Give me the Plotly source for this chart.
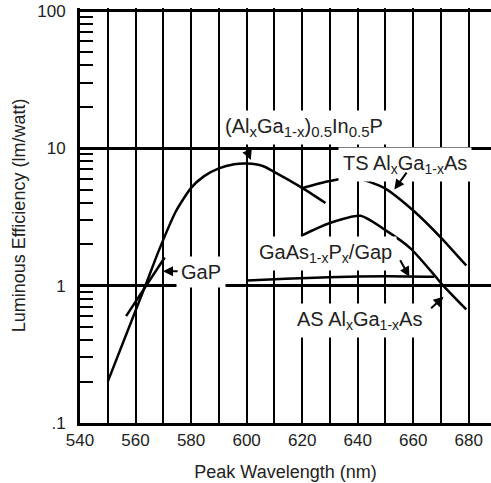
import math
import plotly.graph_objects as go

# ---- data ----
inp_x = [550, 563.8, 568.2, 574.5, 580, 584.7, 590, 595.5, 600, 605.8, 609.4, 620, 628.4]
inp_y = [0.2, 1.03, 1.76, 3.46, 5.14, 6.26, 7.13, 7.63, 7.72, 7.41, 6.81, 5.14, 3.99]

gap_x = [556.6, 570.5]
gap_y = [0.6, 1.6]

ts_x = [619.5, 629.6, 639.0, 649.5, 660.4, 670.2, 679.1]
ts_y = [5.1, 5.75, 6.1, 5.14, 3.46, 2.21, 1.40]

as_x = [619.6, 629.7, 641.0, 650.8, 659.1, 667.8, 670.2, 679.1]
as_y = [2.30, 2.84, 3.22, 2.47, 1.86, 1.18, 1.03, 0.67]

gaasp_x = [600.3, 614, 629.5, 650.8, 667.6]
gaasp_y = [1.09, 1.12, 1.15, 1.17, 1.16]

x_ticks = list(range(540, 690, 20))
x_minor = list(range(550, 690, 20))
y_ticks = [0.1, 1, 10, 100]
y_labels = [".1", "1", "10", "100"]
y_minor = [m * d for d in (0.1, 1, 10) for m in range(2, 10)]

SUB = '<sub><span style="font-size:15px">{}</span></sub>'
labels = [
    ("(Al" + SUB.format("x") + "Ga" + SUB.format("1-x") + ")" + SUB.format("0.5")
     + "In" + SUB.format("0.5") + "P", 620.5, 14.1),
    ("TS Al<sub>x</sub>Ga<sub>1-x</sub>As", 657.1, 7.6),
    ("GaAs<sub>1-x</sub>P<sub>x</sub>/Gap", 628.4, 1.70),
    ("AS Al<sub>x</sub>Ga<sub>1-x</sub>As", 640.8, 0.56),
    ("GaP", 583.6, 1.25),
]
# arrows: (tail_x, tail_y, head_x, head_y)
arrows = [
    (599.8, 10.0, 601.5, 8.2),
    (658.0, 6.81, 653.2, 5.0),
    (655.0, 1.57, 658.6, 1.16),
    (665.9, 0.668, 670.9, 0.83),
    (575.7, 1.27, 569.9, 1.27),
]

FONT = "Liberation Sans, Arial, Helvetica, sans-serif"
TXT = "#222222"

fig = go.Figure()
line = dict(color="black", width=2.5, shape="spline", smoothing=0.6)
for xs, ys in [(inp_x, inp_y), (gap_x, gap_y), (ts_x, ts_y), (as_x, as_y), (gaasp_x, gaasp_y)]:
    fig.add_trace(go.Scatter(x=xs, y=ys, mode="lines", line=line, showlegend=False, hoverinfo="skip"))

for text, x, y in labels:
    fig.add_annotation(x=x, y=math.log10(y), text=text, showarrow=False, bgcolor="white",
                       borderpad=4, font=dict(family=FONT, size=20, color=TXT))

for tx, ty, hx, hy in arrows:
    fig.add_annotation(x=hx, y=math.log10(hy), ax=tx, ay=math.log10(ty), axref="x", ayref="y",
                       text="", showarrow=True, arrowhead=2, arrowsize=1, arrowwidth=2,
                       arrowcolor="black")

fig.update_layout(
    width=491, height=483,
    margin=dict(l=80, r=0, t=8, b=60),
    paper_bgcolor="white", plot_bgcolor="white",
    font=dict(family=FONT, size=17, color=TXT),
    xaxis=dict(
        range=[540, 688], tickmode="array", tickvals=x_ticks,
        showgrid=True, gridcolor="black", gridwidth=2, zeroline=False,
        showline=True, linecolor="black", linewidth=3, ticks="",
        ticklabeloverflow="allow",
        minor=dict(tickmode="array", tickvals=x_minor, showgrid=True, gridcolor="black",
                   gridwidth=2, ticks=""),
        tickfont=dict(size=17, color=TXT),
        title=dict(text="Peak Wavelength (nm)", font=dict(size=18, color=TXT), standoff=16),
    ),
    yaxis=dict(
        type="log", range=[-1, 2.02], tickmode="array", tickvals=y_ticks, ticktext=y_labels,
        showgrid=True, gridcolor="black", gridwidth=3, zeroline=False,
        showline=True, linecolor="black", linewidth=3, ticks="",
        ticklabelstandoff=8,
        tickfont=dict(size=17, color=TXT),
        minor=dict(tickmode="array", tickvals=y_minor, ticks="inside", ticklen=13,
                   tickwidth=2, tickcolor="black", showgrid=False),
        title=dict(text="Luminous Efficiency (lm/watt)", font=dict(size=18, color=TXT), standoff=7),
    ),
)

fig.write_html("out.html", config={"displayModeBar": False},
               post_script="document.body.style.margin='0';document.body.style.overflow='hidden';")
